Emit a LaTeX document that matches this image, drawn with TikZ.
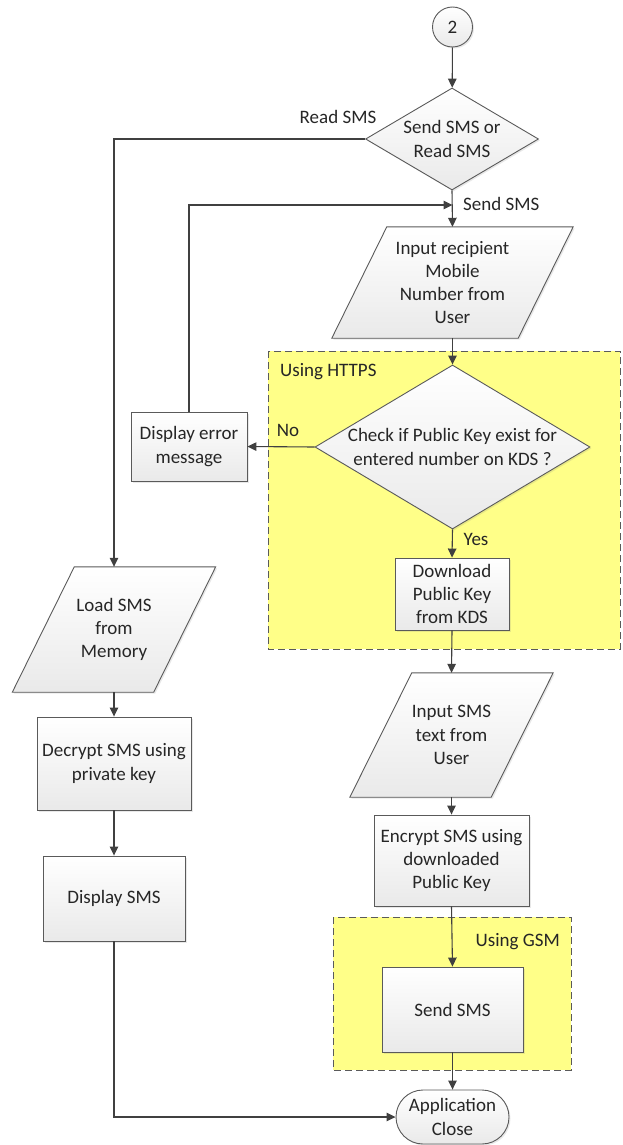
\documentclass[tikz,border=0pt]{standalone}
\usepackage{fontspec}
\setmainfont{Carlito}
\usetikzlibrary{arrows.meta,shapes.geometric,shadows,calc}

\definecolor{edgecol}{HTML}{404040}
\definecolor{outline}{HTML}{5A5A5A}
\definecolor{zone}{HTML}{FFFF88}
\definecolor{ink}{HTML}{262626}

\pgfdeclarelayer{zones}
\pgfdeclarelayer{shapes}
\pgfsetlayers{zones,shapes,main}

\tikzset{
  shapefill/.style={draw=outline, line width=0.9pt, top color=white, bottom color=gray!17,
    drop shadow={shadow xshift=1.5pt, shadow yshift=-1.5pt, opacity=0.18}},
  procbox/.style={shapefill, rectangle, align=center, inner sep=0pt},
  decision/.style={shapefill, diamond, inner sep=0pt},
  iobox/.style={rectangle, align=center, inner sep=0pt},
  terminal/.style={shapefill, rectangle, rounded corners=27pt, align=center, inner sep=0pt},
  connector/.style={shapefill, circle, inner sep=0pt, minimum size=40pt},
  flow/.style={draw=edgecol, line width=1.1pt, -{Triangle[length=9pt,width=8.5pt]}},
  plain/.style={draw=edgecol, line width=1.1pt},
  zonebox/.style={fill=zone, draw=outline, line width=0.9pt, dash pattern=on 7pt off 4pt},
  note/.style={inner sep=0pt, text=ink}
}

\begin{document}
\begin{tikzpicture}[x=1pt, y=-1pt, font=\fontsize{19}{23.3}\selectfont, text=ink]
\useasboundingbox (0,0) rectangle (622,1145);

% protocol zones
\begin{pgfonlayer}{zones}
  \draw[zonebox] (268,351) rectangle (620,649);
  \draw[zonebox] (333,917) rectangle (571,1070);
\end{pgfonlayer}
\node[note, anchor=west] (https) at (280,372) {Using HTTPS};
\node[note, anchor=east] (gsm) at (560,942) {Using GSM};

% start connector and first choice
\node[connector] (c2) at (452.5,27) {2};
\node[decision, minimum width=173pt, minimum height=102pt] (d1) at (452,139) {};
\node[align=center, inner sep=0pt] (d1t) at (d1) {Send SMS or\\Read SMS};

% send branch
\node[iobox, minimum width=241pt, minimum height=111pt] (in1) at (452.5,282.5)
  {Input recipient\\Mobile\\Number from\\User};
\node[decision, minimum width=275pt, minimum height=164pt] (d2) at (452.5,447) {};
\node[align=center, inner sep=0pt] (d2t) at (d2) {Check if Public Key exist for\\entered number on KDS ?};
\node[procbox, minimum width=116pt, minimum height=69pt] (err) at (189,446.5) {Display error\\message};
\node[procbox, minimum width=114pt, minimum height=72pt] (dl) at (452,594) {Download\\Public Key\\from KDS};
\node[iobox, minimum width=203pt, minimum height=124pt] (in2) at (451.5,735) {Input SMS\\text from\\User};
\node[procbox, minimum width=155pt, minimum height=91pt] (enc) at (451.5,860.5) {Encrypt SMS using\\downloaded\\Public Key};
\node[procbox, minimum width=141pt, minimum height=85pt] (send) at (452.5,1009.5) {Send SMS};
\node[terminal, minimum width=113pt, minimum height=54pt] (close) at (452.5,1117) {Application\\Close};

% read branch
\node[iobox, minimum width=203pt, minimum height=125pt] (ld) at (114,629.5) {Load SMS\\from\\Memory};
\node[procbox, minimum width=154pt, minimum height=93pt] (dec) at (114,763.5) {Decrypt SMS using\\private key};
\node[procbox, minimum width=142pt, minimum height=85pt] (disp) at (114,898.5) {Display SMS};

% input/output parallelograms behind their texts
\begin{pgfonlayer}{shapes}
  \foreach \n/\s in {in1/55, in2/62, ld/62}{
    \path[shapefill] ($(\n.north west)+(\s,0)$) -- (\n.north east)
      -- ($(\n.south east)-(\s,0)$) -- (\n.south west) -- cycle;
  }
\end{pgfonlayer}

% flow
\coordinate (join) at (452.5,205);
\draw[flow] (c2) -- (d1);
\draw[flow] (d1.south) -- (in1.north);
\draw[flow] (in1.south) -- (d2.north);
\draw[flow] (d2.west) -- (err.east);
\draw[flow] (d2.south) -- (dl.north);
\draw[flow] (err.north) |- (join);
\draw[flow] (dl.south) -- (in2.north);
\draw[flow] (in2.south) -- (enc.north);
\draw[flow] (enc.south) -- (send.north);
\draw[flow] (send.south) -- (close.north);
\draw[flow] (d1.west) -| (ld.north);
\draw[flow] (ld.south) -- (dec.north);
\draw[flow] (dec.south) -- (disp.north);
\draw[flow] (disp.south) |- (close.west);

% branch labels
\node[note] (lread) at (338,117) {Read SMS};
\node[note, anchor=west] (lsend) at (463,204) {Send SMS};
\node[note] (lno) at (288,430) {No};
\node[note] (lyes) at (476,539) {Yes};
\end{tikzpicture}
\end{document}
